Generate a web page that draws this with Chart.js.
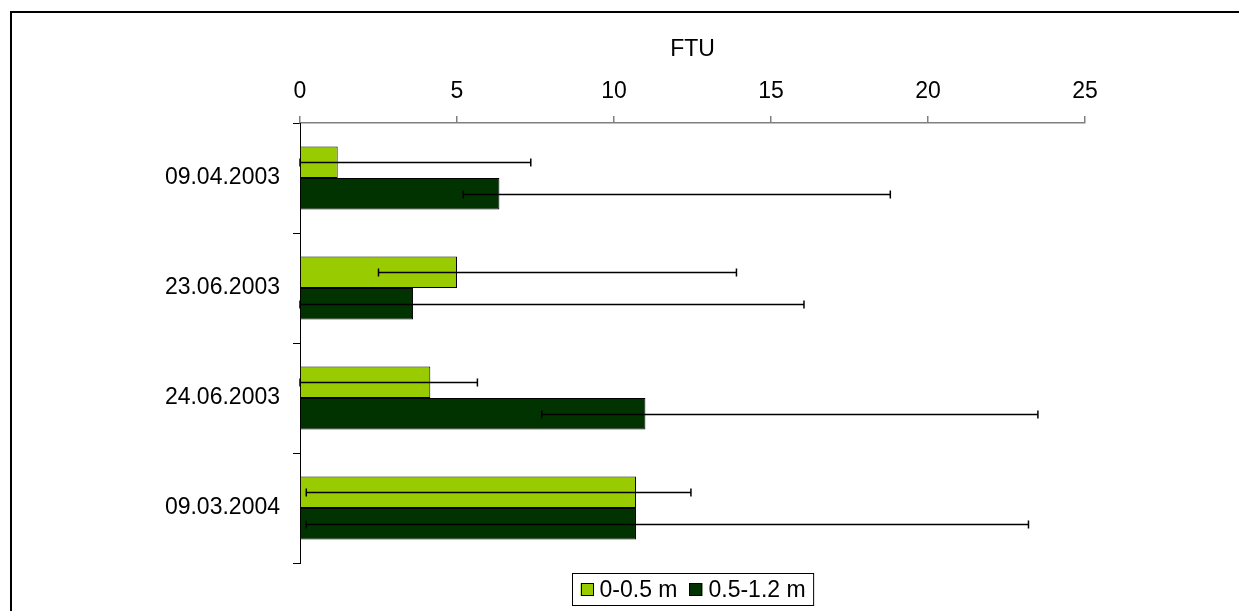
<!DOCTYPE html>
<html>
<head>
<meta charset="utf-8">
<script src="https://cdn.jsdelivr.net/npm/chart.js@4/dist/chart.umd.min.js"></script>
<style>
  html, body { margin: 0; padding: 0; background: #fff; overflow: hidden; }
  #wrap { position: relative; width: 1239px; height: 611px; }
  #frame { position: absolute; left: 10px; top: 11px; width: 1300px; height: 700px; border: 2px solid #000; box-sizing: border-box; pointer-events: none; }
  canvas { position: absolute; left: 0; top: 0; }
</style>
</head>
<body>
<div id="wrap">
  <canvas id="c" width="1239" height="611"></canvas>
  <div id="frame"></div>
</div>
<script>
// ---- data ----
const categories = ['09.04.2003', '23.06.2003', '24.06.2003', '09.03.2004'];
const seriesNames = ['0-0.5 m', '0.5-1.2 m'];
const shallowValues = [1.2, 5.0, 4.15, 10.7];
const deepValues = [6.35, 3.6, 11.0, 10.7];
const shallowErrLow = [0, 2.5, 0, 0.2];
const shallowErrHigh = [7.35, 13.9, 5.65, 12.45];
const deepErrLow = [5.2, 0, 7.7, 0.2];
const deepErrHigh = [18.8, 16.05, 23.5, 23.2];
const xTicks = [0, 5, 10, 15, 20, 25];
const axisTitle = 'FTU';

const FONT = "'Liberation Sans', Arial, sans-serif";
const errLow = [shallowErrLow, deepErrLow];
const errHigh = [shallowErrHigh, deepErrHigh];

const errorBars = {
  id: 'errorBars',
  afterDatasetsDraw(chart) {
    const ctx = chart.ctx;
    const xs = chart.scales.x;
    ctx.save();
    ctx.strokeStyle = '#000';
    ctx.lineWidth = 1.5;
    chart.data.datasets.forEach((ds, i) => {
      const meta = chart.getDatasetMeta(i);
      meta.data.forEach((el, j) => {
        const y = Math.round(el.y) + 0.5;
        const x1 = xs.getPixelForValue(errLow[i][j]);
        const x2 = xs.getPixelForValue(errHigh[i][j]);
        ctx.beginPath();
        ctx.moveTo(x1, y); ctx.lineTo(x2, y);
        ctx.moveTo(x1, y - 4); ctx.lineTo(x1, y + 4);
        ctx.moveTo(x2, y - 4); ctx.lineTo(x2, y + 4);
        ctx.stroke();
      });
    });
    ctx.restore();
  }
};

const boxLegend = {
  id: 'boxLegend',
  afterDraw(chart) {
    const ctx = chart.ctx;
    const area = chart.chartArea;
    ctx.save();
    ctx.font = '23px ' + FONT;
    const sw = 13, gapT = 6, gapI = 12, pad = 8;
    const items = chart.data.datasets.map(d => ({ label: d.label, color: d.backgroundColor, w: ctx.measureText(d.label).width }));
    let total = pad * 2;
    items.forEach((it, k) => { total += sw + gapT + it.w + (k < items.length - 1 ? gapI : 0); });
    const cx = (area.left + area.right) / 2;
    const bx = Math.round(cx - total / 2) + 0.5;
    const by = 573.5, bh = 32;
    ctx.strokeStyle = '#000';
    ctx.lineWidth = 1;
    ctx.strokeRect(bx, by, total, bh);
    let x = bx + pad;
    const cy = by + bh / 2;
    items.forEach(it => {
      ctx.fillStyle = it.color;
      ctx.fillRect(x, cy - sw / 2, sw, sw);
      ctx.strokeRect(Math.round(x) + 0.5, Math.round(cy - sw / 2) + 0.5, sw - 1, sw - 1);
      x += sw + gapT;
      ctx.fillStyle = '#000';
      ctx.textBaseline = 'middle';
      ctx.textAlign = 'left';
      ctx.fillText(it.label, x, cy + 1);
      x += it.w + gapI;
    });
    ctx.restore();
  }
};

new Chart(document.getElementById('c'), {
  type: 'bar',
  data: {
    labels: categories,
    datasets: [
      { label: seriesNames[0], data: shallowValues, backgroundColor: '#99CC00', borderColor: '#000', borderWidth: 1 },
      { label: seriesNames[1], data: deepValues, backgroundColor: '#003300', borderColor: '#000', borderWidth: 1 }
    ]
  },
  options: {
    indexAxis: 'y',
    responsive: false,
    animation: false,
    devicePixelRatio: 1,
    layout: { padding: { left: 10, top: 12, right: 154, bottom: 48 } },
    datasets: { bar: { categoryPercentage: 0.573, barPercentage: 1.0 } },
    plugins: { legend: { display: false }, tooltip: { enabled: false } },
    scales: {
      x: {
        position: 'top',
        min: 0, max: 25,
        afterBuildTicks: (s) => { s.ticks = xTicks.map(v => ({ value: v })); },
        afterFit: (s) => { s.height = 111; },
        ticks: { color: '#000', font: { family: FONT, size: 23 }, padding: 11 },
        grid: { drawOnChartArea: false, tickLength: 7, color: '#808080', lineWidth: 1.5 },
        border: { color: '#808080', width: 1.5 },
        title: { display: true, text: axisTitle, color: '#000', font: { family: FONT, size: 23 }, padding: { top: 24, bottom: 0 } }
      },
      y: {
        afterFit: (s) => { s.width = 290; },
        ticks: { color: '#000', font: { family: FONT, size: 23 }, padding: 13 },
        grid: { offset: true, drawOnChartArea: false, tickLength: 7, color: '#000', lineWidth: 1 },
        border: { color: '#000', width: 1 }
      }
    }
  },
  plugins: [errorBars, boxLegend]
});
</script>
</body>
</html>
